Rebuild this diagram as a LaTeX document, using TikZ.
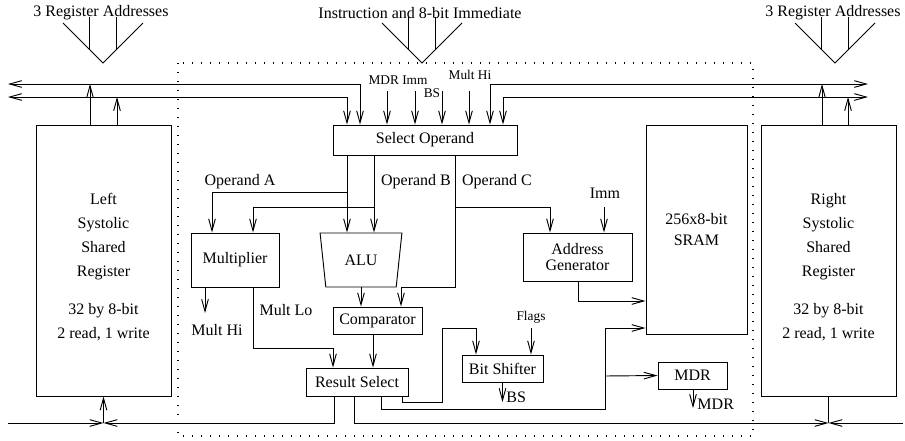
\documentclass[tikz,border=0pt]{standalone}
\usepackage{fontspec}
\setmainfont{Liberation Serif}
\usetikzlibrary{arrows.meta,shapes.geometric}

\begin{document}
\begin{tikzpicture}[x=0.75pt,y=-0.75pt,line width=0.7pt,>={Straight Barb[length=9pt,width=5pt]},
    blk/.style={rectangle,draw=black,inner sep=0pt,align=center,font=\fontsize{12}{12}\selectfont},
    reg/.style={blk,minimum width=101.25pt,minimum height=203.25pt},
    txt/.style={inner sep=0pt,font=\fontsize{12}{14}\selectfont},
    sml/.style={inner sep=0pt,font=\fontsize{10}{12}\selectfont},
    core/.style={draw=black,line width=0.9pt,dash pattern=on 0.75pt off 6pt}]
    \useasboundingbox (0,0) rectangle (905,440);
    \draw[core] (178,63) rectangle (753,436);

    \foreach \fx/\ft [count=\i] in {103/3 Register Addresses,422/Instruction and 8-bit Immediate,835/3 Register Addresses}{
        \node[txt] (fan\i) at (\fx-2,13) {\ft};
        \draw (\fx-40,23) -- (\fx,63) -- (\fx+40,23);
        \draw (\fx-13.5,17) -- (\fx-13.5,49.5) (\fx+13.5,17) -- (\fx+13.5,49.5);
    }

    \node[reg] (lreg) at (103.5,260.5) {};
    \node[reg] (rreg) at (828.5,260.5) {};
    \node[txt,align=center,font=\fontsize{12}{18}\selectfont] (ltxt) at (103.5,267) {Left\\Systolic\\Shared\\Register\\[10.5pt]32 by 8-bit\\2 read, 1 write};
    \node[txt,align=center,font=\fontsize{12}{18}\selectfont] (rtxt) at (828.5,267) {Right\\Systolic\\Shared\\Register\\[10.5pt]32 by 8-bit\\2 read, 1 write};
    \node[blk,minimum width=75.75pt,minimum height=156.75pt,font=\fontsize{12}{15.75}\selectfont] (sram) at (696.5,229.5) {256x8-bit\\SRAM};
    \node[blk,minimum width=138pt,minimum height=22.5pt] (sel) at (425,140) {Select Operand};
    \node[blk,minimum width=66pt,minimum height=40.5pt] (mul) at (235,260) {Multiplier};
    \node[blk,trapezium,trapezium left angle=76,trapezium right angle=76,shape border rotate=180,
        trapezium stretches=true,minimum width=61.5pt,minimum height=40.5pt] (alu) at (361,260) {ALU};
    \node[blk,minimum width=66.75pt,minimum height=20.25pt] (cmp) at (377.5,320.5) {Comparator};
    \node[blk,minimum width=76.5pt,minimum height=21pt] (res) at (357,382) {Result Select};
    \node[blk,minimum width=60.75pt,minimum height=20.25pt] (bsh) at (502.5,368.5) {Bit Shifter};
    \node[blk,minimum width=81.75pt,minimum height=36pt] (agen) at (577.5,257) {Address\\Generator};
    \node[blk,minimum width=51.75pt,minimum height=20.25pt] (mdr) at (692.5,375.5) {MDR};

    \node[txt] (opa) at (240,182) {Operand A};
    \node[txt] (opb) at (416,182) {Operand B};
    \node[txt] (opc) at (497,182) {Operand C};
    \node[txt] (mhi) at (217,330) {Mult Hi};
    \node[txt] (mlo) at (286,310) {Mult Lo};
    \node[txt] (imm) at (605,193) {Imm};
    \node[txt,anchor=west] (bso) at (506,397) {BS};
    \node[txt,anchor=west] (mdro) at (697,404) {MDR};
    \node[sml] (mdrimm) at (398,80) {MDR Imm};
    \node[sml] (bsin) at (432,93) {BS};
    \node[sml] (mhin) at (470,75) {Mult Hi};
    \node[sml] (flags) at (531,317) {Flags};

    \coordinate (lbus) at (lreg.south |- 0,423);
    \coordinate (rbus) at (rreg.south |- 0,423);

    \draw[<->] (8,84) -| (360,0 |- sel.north);
    \draw[<->] (8,97) -| (347,0 |- sel.north);
    \draw[<->] (868,84) -| (490,0 |- sel.north);
    \draw[<->] (868,97) -| (503,0 |- sel.north);
    \draw[->] (90,0 |- lreg.north) -- (90,84);
    \draw[->] (117,0 |- lreg.north) -- (117,97);
    \draw[->] (822,0 |- rreg.north) -- (822,84);
    \draw[->] (848,0 |- rreg.north) -- (848,97);
    \foreach \x in {387,415,442,469}
        \draw[->] (\x,91) -- (\x,0 |- sel.north);

    \draw[->] (347,0 |- sel.south) -- (347,0 |- alu.north);
    \draw[->] (374,0 |- sel.south) -- (374,0 |- alu.north);
    \draw[->] (347,192) -| (212,0 |- mul.north);
    \draw[->] (374,207) -| (253,0 |- mul.north);
    \draw[->] (455,0 |- sel.south) |- (401,287) -- (401,0 |- cmp.north);
    \draw[->] (455,207) -| (550,0 |- agen.north);
    \draw[->] (alu.south) -- (alu.south |- cmp.north);
    \draw[->] (373,0 |- cmp.south) -- (373,0 |- res.north);
    \draw[->] (205,0 |- mul.south) -- (205,313);
    \draw[->] (253,0 |- mul.south) |- (333,348) -- (333,0 |- res.north);

    \draw[->] (334,0 |- res.south) |- (lbus);
    \draw[->] (8,423) -- (lbus);
    \draw[->] (lbus) -- (lreg.south);
    \draw[->] (354,0 |- res.south) |- (rbus);
    \draw[->] (903,423) -- (rbus);
    \draw (rbus) -- (rreg.south);
    \draw[->] (381,0 |- res.south) |- (605,409) -- (605,328) -- (sram.west |- 0,328);
    \draw[->] (605,376) -- (mdr.west);
    \draw[->] (402,0 |- res.south) |- (442,402) |- (476,328) -- (476,0 |- bsh.north);
    \draw[->] (531,328) -- (531,0 |- bsh.north);
    \draw[->] (bsh.south) -- (bsh.south |- 0,402);
    \draw[->] (604,207) -- (604,0 |- agen.north);
    \draw[->] (578,0 |- agen.south) |- (sram.west |- 0,301);
    \draw[->] (693,0 |- mdr.south) -- (693,408);
\end{tikzpicture}
\end{document}
